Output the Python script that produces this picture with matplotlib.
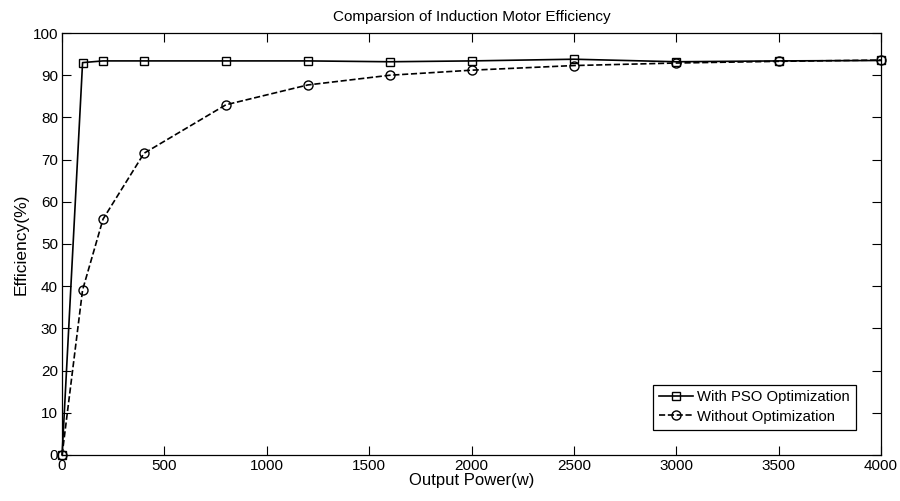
import matplotlib.pyplot as plt

plt.rcParams['font.family'] = ['Liberation Sans', 'DejaVu Sans']
plt.rcParams['font.size'] = 11

# 出力 (W)
power = [0, 100, 200, 400, 800, 1200, 1600, 2000, 2500, 3000, 3500, 4000]
# 効率 (%)
eff_pso = [0, 93.0, 93.4, 93.4, 93.4, 93.4, 93.2, 93.4, 93.8, 93.2, 93.4, 93.5]
eff_none = [0, 39.1, 55.9, 71.5, 83.0, 87.7, 90.0, 91.2, 92.3, 92.9, 93.3, 93.6]

fig = plt.figure(figsize=(9, 5.01), dpi=100)
ax = fig.add_axes([0.069, 0.092, 0.91, 0.842])

ax.plot(power, eff_pso, 'k-s', markerfacecolor='none', markersize=6,
        linewidth=1.2, label='With PSO Optimization', clip_on=False, zorder=3)
ax.plot(power, eff_none, 'k--o', markerfacecolor='none', markersize=6.5,
        linewidth=1.2, label='Without Optimization', clip_on=False, zorder=3)

ax.set_xlim(0, 4000)
ax.set_ylim(0, 100)
ax.set_xticks([0, 500, 1000, 1500, 2000, 2500, 3000, 3500, 4000])
ax.set_yticks(range(0, 101, 10))
ax.tick_params(direction='in', top=True, right=True, length=6.5, width=0.8, pad=3)
for s in ax.spines.values():
    s.set_linewidth(0.9)

ax.set_title('Comparsion of Induction Motor Efficiency', fontsize=11, pad=9)
ax.set_xlabel('Output Power(w)', fontsize=12, labelpad=0)
ax.set_ylabel('Efficiency(%)', fontsize=12.5, labelpad=3)

leg = ax.legend(loc='lower right', fancybox=False, framealpha=1,
                edgecolor='black', borderaxespad=1.7, handlelength=2.3,
                handletextpad=0.3, borderpad=0.4, labelspacing=0.35,
                fontsize=10.7)
leg.get_frame().set_linewidth(0.9)

fig.savefig('out.png', dpi=100)
